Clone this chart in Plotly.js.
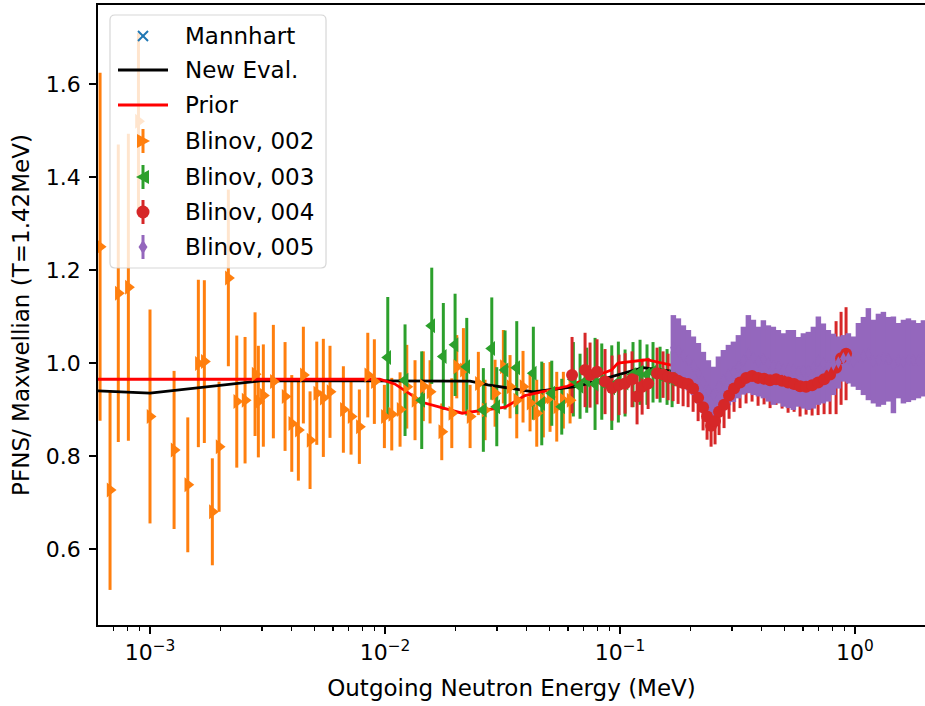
<!DOCTYPE html>
<html>
<head>
<meta charset="utf-8">
<script src="https://cdn.plot.ly/plotly-3.0.1.min.js"></script>
<style>
  html, body { margin: 0; padding: 0; background: #fff; }
  #chart { width: 925px; height: 706px; }
</style>
</head>
<body>
<div id="chart"></div>
<script>
// ---- Data: PFNS / Maxwellian (T = 1.42 MeV) ratios ----
const mannhartE   = [0.925, 1.02, 1.25, 1.55, 1.86];
const mannhartV   = [0.99, 1.0, 1.01, 1.02, 1.03];
const mannhartErr = [0.035, 0.042, 0.045, 0.045, 0.045];

const newEvalE = [6.0e-4, 1.0e-3, 3.0e-3, 0.023, 0.0274, 0.0427, 0.066, 0.1254, 0.2588, 0.5, 0.8225, 1.03, 1.34, 1.555, 1.855, 2.0];
const newEvalV = [0.940, 0.935, 0.962, 0.961, 0.953, 0.938, 0.950, 0.990, 0.970, 0.985, 0.974, 1.006, 0.990, 1.017, 1.024, 1.02];

const priorE = [6.0e-4, 0.0095, 0.011, 0.0145, 0.0213, 0.0325, 0.0394, 0.0595, 0.092, 0.098, 0.13, 0.25, 0.5, 0.85, 1.10, 1.555, 1.855, 2.0];
const priorV = [0.965, 0.965, 0.955, 0.915, 0.892, 0.905, 0.93, 0.95, 0.985, 1.0, 1.007, 0.975, 0.985, 1.0, 1.028, 1.013, 1.021, 1.02];

const b002E = [6.13e-4, 6.76e-4, 7.33e-4, 8.09e-4, 8.93e-4, 1.00e-3, 1.266e-3, 1.448e-3, 1.606e-3, 1.703e-3,
  1.842e-3, 1.967e-3, 2.155e-3, 2.340e-3, 2.538e-3, 2.799e-3, 2.891e-3, 3.036e-3, 3.349e-3, 3.756e-3,
  4.011e-3, 4.279e-3, 4.494e-3, 4.798e-3, 5.124e-3, 5.465e-3, 5.834e-3, 6.650e-3, 7.171e-3, 7.778e-3,
  8.447e-3, 9.01e-3, 9.94e-3, 1.0685e-2, 1.159e-2, 1.238e-2, 1.342e-2, 1.456e-2, 1.555e-2, 1.744e-2,
  1.924e-2, 2.020e-2, 2.156e-2, 2.302e-2, 2.496e-2, 2.665e-2, 2.940e-2, 3.189e-2, 3.405e-2, 3.636e-2,
  3.867e-2, 4.142e-2, 4.423e-2, 4.719e-2, 5.039e-2, 5.381e-2, 5.741e-2, 6.131e-2];
const b002V = [1.25, 0.727, 1.15, 1.163, 1.52, 0.885, 0.813, 0.738, 0.999, 1.003,
  0.68, 0.82, 1.183, 0.917, 0.92, 0.976, 0.917, 0.93, 0.96, 0.928,
  0.87, 0.856, 0.974, 0.834, 0.935, 0.925, 0.938, 0.90, 0.885, 0.863,
  0.974, 0.96, 0.885, 0.89, 0.90, 0.949, 0.92, 0.95, 0.938, 0.852,
  0.892, 0.992, 0.985, 0.885, 0.956, 0.899, 0.935, 0.992, 0.949, 0.92,
  0.949, 0.914, 0.892, 0.92, 0.927, 0.906, 0.92, 0.92];
const b002Err = [0.374, 0.215, 0.32, 0.33, 0.19, 0.23, 0.17, 0.145, 0.18, 0.175,
  0.115, 0.14, 0.19, 0.142, 0.136, 0.133, 0.12, 0.11, 0.122, 0.117,
  0.104, 0.109, 0.104, 0.105, 0.111, 0.127, 0.099, 0.093, 0.082, 0.08,
  0.091, 0.091, 0.068, 0.078, 0.08, 0.09, 0.086, 0.075, 0.068, 0.061,
  0.075, 0.068, 0.09, 0.068, 0.068, 0.065, 0.072, 0.079, 0.068, 0.082,
  0.077, 0.061, 0.072, 0.08, 0.075, 0.075, 0.061, 0.05];

const b003E = [1.0275e-2, 1.217e-2, 1.433e-2, 1.581e-2, 1.771e-2, 1.987e-2, 2.228e-2, 2.621e-2, 2.847e-2, 2.990e-2,
  3.243e-2, 3.636e-2, 4.278e-2, 4.646e-2, 5.124e-2, 5.651e-2, 6.332e-2, 6.761e-2, 7.218e-2, 7.832e-2,
  8.364e-2, 9.225e-2, 9.841e-2, 0.1051, 0.1136, 0.1217, 0.1303, 0.1382, 0.1481, 0.1586, 0.1666];
const b003V = [1.012, 0.963, 0.92, 1.080, 1.014, 1.039, 0.992, 0.899, 1.031, 0.906,
  0.985, 0.99, 0.978, 0.913, 0.935, 0.906, 0.965, 0.95, 0.963, 0.955,
  0.96, 0.947, 0.959, 0.957, 0.975, 0.98, 0.975, 0.98, 0.975, 0.97, 0.965];
const b003Err = [0.13, 0.12, 0.105, 0.125, 0.115, 0.11, 0.105, 0.09, 0.11, 0.085,
  0.085, 0.1, 0.1, 0.09, 0.07, 0.06, 0.08, 0.07, 0.07, 0.099,
  0.082, 0.091, 0.087, 0.072, 0.07, 0.07, 0.065, 0.065, 0.06, 0.06, 0.06];

const b004E = [0.06252, 0.07101, 0.07458, 0.07985, 0.08637, 0.09251, 0.09909, 0.1051, 0.1125, 0.1182,
  0.1242, 0.1317, 0.1438, 0.1525, 0.1602, 0.1682, 0.1767, 0.1856, 0.1949, 0.2047,
  0.2150, 0.2257, 0.2347, 0.2441, 0.2538, 0.2640, 0.2772, 0.2911, 0.3057, 0.3242,
  0.3439, 0.3647, 0.3869, 0.4103, 0.4351, 0.4615, 0.4895, 0.5191, 0.5506, 0.5838,
  0.6192, 0.6568, 0.6966, 0.7387, 0.7834, 0.8308, 0.8725, 0.9162];
const b004V = [0.974, 0.985, 0.974, 0.981, 0.96, 0.946, 0.953, 0.956, 0.965, 0.928,
  0.949, 0.956, 0.978, 0.975, 0.97, 0.968, 0.962, 0.957, 0.955, 0.945,
  0.925, 0.905, 0.885, 0.865, 0.875, 0.895, 0.91, 0.93, 0.945, 0.958,
  0.968, 0.972, 0.968, 0.966, 0.963, 0.965, 0.962, 0.958, 0.955, 0.95,
  0.949, 0.952, 0.958, 0.965, 0.975, 0.99, 1.01, 1.02];
const b004Err = [0.082, 0.08, 0.07, 0.07, 0.07, 0.07, 0.065, 0.065, 0.06, 0.06,
  0.06, 0.055, 0.055, 0.05, 0.05, 0.05, 0.05, 0.05, 0.05, 0.05,
  0.05, 0.05, 0.05, 0.045, 0.05, 0.05, 0.05, 0.05, 0.05, 0.055,
  0.055, 0.055, 0.06, 0.055, 0.06, 0.055, 0.06, 0.065, 0.06, 0.065,
  0.06, 0.065, 0.07, 0.075, 0.085, 0.1, 0.1, 0.1];

const b005E = [0.1687, 0.1772, 0.1861, 0.1955, 0.2053, 0.2156, 0.2264, 0.2378, 0.2497, 0.2623,
  0.2754, 0.2893, 0.3038, 0.3190, 0.3350, 0.3518, 0.3695, 0.3880, 0.4075, 0.4280,
  0.4494, 0.4721, 0.4957, 0.5206, 0.5467, 0.5742, 0.6030, 0.6332, 0.6651, 0.6984,
  0.7335, 0.7703, 0.8090, 0.8497, 0.8925, 0.9374, 0.9845, 1.034, 1.086, 1.140,
  1.198, 1.258, 1.321, 1.387, 1.457, 1.530, 1.607, 1.688, 1.772, 1.862, 1.955];
const b005V = [1.033, 1.026, 1.015, 1.006, 0.994, 0.978, 0.958, 0.940, 0.931, 0.949,
  0.963, 0.974, 0.981, 0.992, 1.005, 1.019, 1.012, 1.003, 1.008, 0.999,
  0.994, 0.992, 0.985, 0.987, 0.985, 0.981, 0.983, 0.983, 0.990, 1.005,
  0.999, 0.994, 0.997, 1.001, 1.010, 1.010, 1.003, 1.014, 1.015, 1.019,
  1.003, 1.006, 1.010, 1.008, 0.996, 1.005, 1.003, 1.006, 1.006, 1.005, 1.010];
const b005Err = [0.070, 0.070, 0.066, 0.065, 0.063, 0.065, 0.066, 0.066, 0.061, 0.065,
  0.065, 0.065, 0.065, 0.068, 0.073, 0.084, 0.081, 0.075, 0.084, 0.082,
  0.084, 0.079, 0.079, 0.084, 0.086, 0.075, 0.081, 0.084, 0.088, 0.095,
  0.086, 0.077, 0.066, 0.056, 0.050, 0.054, 0.054, 0.072, 0.084, 0.099,
  0.090, 0.100, 0.100, 0.091, 0.104, 0.081, 0.090, 0.090, 0.086, 0.081, 0.082];

const xTickVals = [1e-3, 1e-2, 1e-1, 1];
const xTickText = ['10<sup>\u22123</sup>', '10<sup>\u22122</sup>', '10<sup>\u22121</sup>', '10<sup>0</sup>'];
const yTickVals = [0.6, 0.8, 1.0, 1.2, 1.4, 1.6];

const legendLabels = ['Mannhart', 'New Eval.', 'Prior', 'Blinov, 002', 'Blinov, 003', 'Blinov, 004', 'Blinov, 005'];

// ---- Colours and styling ----
const C = { blue: '#1f77b4', orange: '#ff7f0e', green: '#2ca02c', red: '#d62728', purple: '#9467bd' };
const FONT = 'DejaVu Sans, Verdana, sans-serif';
const FS = 23;      // titles and legend
const TFS = 22;     // tick labels

// minor ticks of the log axis (2..9 x each decade)
const minorVals = [];
for (let d = -4; d <= 0; d++) for (let m = 2; m <= 9; m++) minorVals.push(m * Math.pow(10, d));

// error bars and markers as separate layers so the bars sit below the markers
function bars(x, y, e, color, thick) {
  return { x: x, y: y, type: 'scatter', mode: 'markers', showlegend: false, hoverinfo: 'skip',
    marker: { size: 1, opacity: 0, color: color },
    error_y: { type: 'data', array: e, visible: true, color: color, thickness: thick, width: 0 } };
}
function marks(x, y, name, symbol, size, color, extra) {
  const m = Object.assign({ symbol: symbol, size: size, color: color, line: { width: 0 } }, extra || {});
  return { x: x, y: y, name: name, type: 'scatter', mode: 'markers', showlegend: false, marker: m };
}

const traces = [
  bars(mannhartE, mannhartV, mannhartErr, C.blue, 2.2),
  marks(mannhartE, mannhartV, 'Mannhart', 'x-thin', 11, C.blue, { line: { width: 2, color: C.blue } }),
  bars(b002E, b002V, b002Err, C.orange, 3),
  bars(b003E, b003V, b003Err, C.green, 3),
  bars(b004E, b004V, b004Err, C.red, 3),
  { x: newEvalE, y: newEvalV, name: 'New Eval.', type: 'scatter', mode: 'lines', showlegend: false,
    line: { color: '#000000', width: 2.8 } },
  { x: priorE, y: priorV, name: 'Prior', type: 'scatter', mode: 'lines', showlegend: false,
    line: { color: '#ff0000', width: 2.8 } },
  bars(b005E, b005V, b005Err, C.purple, 5.5),
  marks(b002E, b002V, 'Blinov, 002', 'triangle-right', 13, C.orange),
  marks(b003E, b003V, 'Blinov, 003', 'triangle-left', 13, C.green),
  marks(b004E, b004V, 'Blinov, 004', 'circle', 12, C.red),
  marks(b005E, b005V, 'Blinov, 005', 'diamond-tall', 9, C.purple)
];

// ---- Legend box drawn in pixel space, converted to paper coordinates ----
const PL = 98, PR = 925, PT = 5, PB = 625;
const px = x => (x - PL) / (PR - PL);
const py = y => (PB - y) / (PB - PT);
const P = (x, y) => px(x).toFixed(5) + ',' + py(y).toFixed(5);

function roundRect(x0, y0, x1, y1, r) {
  return 'M' + P(x0 + r, y0) + ' L' + P(x1 - r, y0) + ' Q' + P(x1, y0) + ' ' + P(x1, y0 + r) +
    ' L' + P(x1, y1 - r) + ' Q' + P(x1, y1) + ' ' + P(x1 - r, y1) +
    ' L' + P(x0 + r, y1) + ' Q' + P(x0, y1) + ' ' + P(x0, y1 - r) +
    ' L' + P(x0, y0 + r) + ' Q' + P(x0, y0) + ' ' + P(x0 + r, y0) + ' Z';
}
function seg(x0, y0, x1, y1, color, w) {
  return { type: 'line', xref: 'paper', yref: 'paper', layer: 'above',
    x0: px(x0), y0: py(y0), x1: px(x1), y1: py(y1), line: { color: color, width: w } };
}
function poly(pts, color) {
  return { type: 'path', xref: 'paper', yref: 'paper', layer: 'above',
    path: 'M' + pts.map(p => P(p[0], p[1])).join(' L') + ' Z',
    fillcolor: color, line: { width: 0 } };
}

const hx = 143;                       // handle centre x
const rowY = [36, 70, 105, 141, 177, 212, 247];
const shapes = [
  { type: 'path', xref: 'paper', yref: 'paper', layer: 'above', path: roundRect(110, 15, 326, 268, 5),
    fillcolor: 'rgba(255,255,255,0.8)', line: { color: 'rgba(204,204,204,0.8)', width: 1.2 } },
  // Mannhart: x marker
  seg(hx - 5, rowY[0] - 5, hx + 5, rowY[0] + 5, C.blue, 2),
  seg(hx - 5, rowY[0] + 5, hx + 5, rowY[0] - 5, C.blue, 2),
  // lines
  seg(118, rowY[1], 168, rowY[1], '#000000', 2.8),
  seg(118, rowY[2], 168, rowY[2], '#ff0000', 2.8),
  // Blinov 002
  seg(hx, rowY[3] - 12, hx, rowY[3] + 12, C.orange, 3),
  poly([[hx - 6, rowY[3] - 7], [hx + 7, rowY[3]], [hx - 6, rowY[3] + 7]], C.orange),
  // Blinov 003
  seg(hx, rowY[4] - 12, hx, rowY[4] + 12, C.green, 3),
  poly([[hx + 6, rowY[4] - 7], [hx - 7, rowY[4]], [hx + 6, rowY[4] + 7]], C.green),
  // Blinov 004
  seg(hx, rowY[5] - 12, hx, rowY[5] + 12, C.red, 3),
  { type: 'circle', xref: 'paper', yref: 'paper', layer: 'above',
    x0: px(hx - 6.5), x1: px(hx + 6.5), y0: py(rowY[5] + 6.5), y1: py(rowY[5] - 6.5),
    fillcolor: C.red, line: { width: 0 } },
  // Blinov 005
  seg(hx, rowY[6] - 12, hx, rowY[6] + 12, C.purple, 3),
  poly([[hx, rowY[6] - 7], [hx + 4.5, rowY[6]], [hx, rowY[6] + 7], [hx - 4.5, rowY[6]]], C.purple)
];

const annotations = legendLabels.map((t, i) => ({
  text: t, xref: 'paper', yref: 'paper', x: px(183), y: py(rowY[i]),
  xanchor: 'left', yanchor: 'middle', showarrow: false,
  font: { family: FONT, size: FS, color: '#000000' }
}));

const layout = {
  width: 925, height: 706,
  margin: { l: 98, r: 0, t: 5, b: 81, pad: 0 },
  paper_bgcolor: '#ffffff', plot_bgcolor: '#ffffff',
  showlegend: false,
  font: { family: FONT, size: FS, color: '#000000' },
  xaxis: {
    type: 'log', range: [-3.2213, 0.2979], automargin: false,
    showline: true, linecolor: '#000000', linewidth: 1.8, mirror: true,
    showgrid: false, zeroline: false,
    ticks: 'outside', ticklen: 7, tickwidth: 1.8, tickcolor: '#000000',
    tickmode: 'array', tickvals: xTickVals, ticktext: xTickText,
    tickfont: { family: FONT, size: TFS, color: '#000000' },
    minor: { tickmode: 'array', tickvals: minorVals, ticks: 'outside', ticklen: 4, tickwidth: 1.3,
      tickcolor: '#000000', showgrid: false },
    title: { text: 'Outgoing Neutron Energy (MeV)', font: { family: FONT, size: FS, color: '#000000' }, standoff: 16 }
  },
  yaxis: {
    range: [0.43656, 1.76989], automargin: false,
    showline: true, linecolor: '#000000', linewidth: 1.8, mirror: false,
    showgrid: false, zeroline: false,
    ticks: 'outside', ticklen: 7, tickwidth: 1.8, tickcolor: '#000000',
    tickmode: 'array', tickvals: yTickVals, tickformat: '.1f', ticklabelstandoff: 4,
    tickfont: { family: FONT, size: TFS, color: '#000000' },
    title: { text: 'PFNS/ Maxwellian (T=1.42MeV)', font: { family: FONT, size: FS, color: '#000000' }, standoff: 10 }
  },
  shapes: shapes,
  annotations: annotations
};

Plotly.newPlot('chart', traces, layout, { staticPlot: true, displayModeBar: false });
</script>
</body>
</html>
